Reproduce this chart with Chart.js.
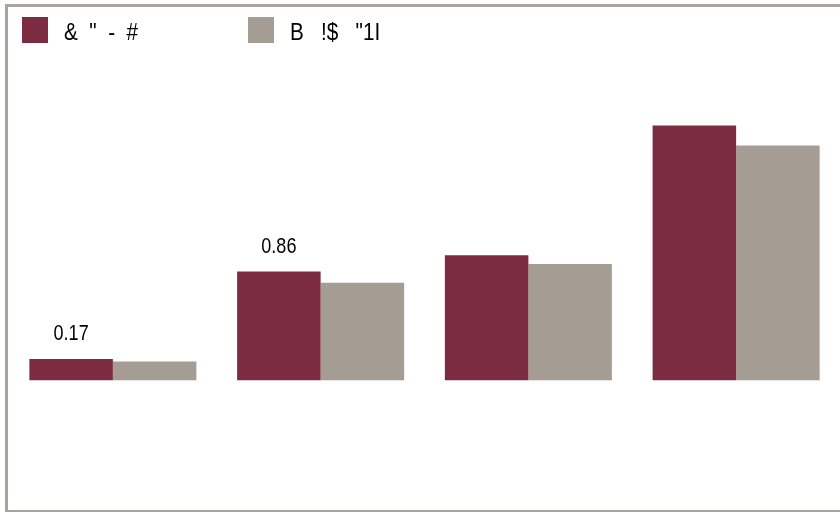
<!DOCTYPE html>
<html>
<head>
<meta charset="utf-8">
<script src="https://cdn.jsdelivr.net/npm/chart.js@4/dist/chart.umd.min.js"></script>
<style>
  body { margin: 0; background: #fff; }
  #wrap { position: relative; width: 840px; height: 512px; }
</style>
</head>
<body>
<div id="wrap"><canvas id="myChart" width="840" height="512"></canvas></div>
<script>
let categorie = ['1', '2', '3', '4'];
let serie1 = [0.17, 0.87, 1.0, 2.04];
let serie2 = [0.15, 0.78, 0.93, 1.88];
let etichette1 = ['0.17', '0.86', null, null];
let nomiSerie = ['&  "  -  #', 'B   !$   "1I'];

let colore1 = '#7c2c41';
let colore2 = '#a59c93';
let coloreCornice = '#aba49c';
let font = '"Liberation Sans Narrow", "Liberation Sans", Arial, sans-serif';

// testo un po' stretto come nell'originale
function testoStretto(c, testo, x, y, scala) {
  c.save();
  c.translate(x, y);
  c.scale(scala, 1);
  c.fillText(testo, 0, 0);
  c.restore();
}

/*********************cornice e legenda ***********************/
let cornice = {
  id: 'cornice',
  afterDraw(chart) {
    let c = chart.ctx;
    c.save();
    c.fillStyle = coloreCornice;
    c.fillRect(5, 4, 840, 3);
    c.fillRect(5, 4, 3, 508);
    c.fillRect(5, 510, 840, 2);

    // legenda
    let posBox = [22, 248];
    chart.data.datasets.forEach(function(ds, i) {
      c.fillStyle = ds.backgroundColor;
      c.fillRect(posBox[i], 17, 26, 26);
      c.fillStyle = '#000';
      c.font = '23px ' + font;
      c.textAlign = 'left';
      c.textBaseline = 'alphabetic';
      testoStretto(c, ds.label, posBox[i] + 42, 40, 0.9);
    });

    // etichette sopra le barre
    let meta = chart.getDatasetMeta(0);
    c.font = '22px ' + font;
    c.textAlign = 'center';
    c.fillStyle = '#000';
    meta.data.forEach(function(bar, i) {
      if (etichette1[i]) {
        testoStretto(c, etichette1[i], bar.x, bar.y - 19, 0.82);
      }
    });
    c.restore();
  }
};

var ctx = document.getElementById('myChart');
var myChart = new Chart(ctx, {
  type: 'bar',
  data: {
    labels: categorie,
    datasets: [{
      label: nomiSerie[0],
      data: serie1,
      backgroundColor: colore1,
      borderWidth: 0
    }, {
      label: nomiSerie[1],
      data: serie2,
      backgroundColor: colore2,
      borderWidth: 0
    }]
  },
  options: {
    responsive: false,
    animation: false,
    layout: { padding: { top: 68, bottom: 7, left: 9, right: 0 } },
    datasets: {
      bar: { categoryPercentage: 0.804, barPercentage: 1 }
    },
    scales: {
      x: { display: false },
      y: { display: false, min: -1, max: 2.5 }
    },
    plugins: {
      legend: { display: false },
      tooltip: { enabled: false }
    }
  },
  plugins: [cornice]
});
</script>
</body>
</html>
